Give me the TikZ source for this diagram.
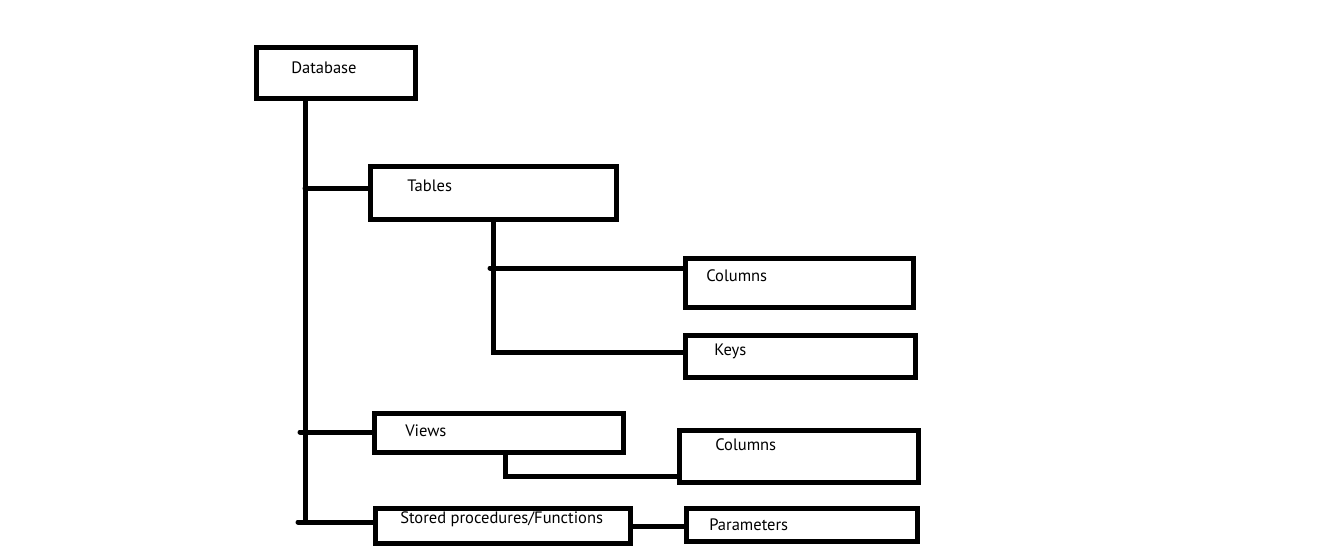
\documentclass[tikz,border=0pt]{standalone}
\usepackage{fontspec}
\setmainfont{PT Sans}
\usetikzlibrary{calc}

\tikzset{
    box/.style={draw, line width=3.75pt, inner sep=0pt},
    lbl/.style={anchor=base west, inner sep=0pt, font=\fontsize{12.4}{14}\selectfont},
    conn/.style={line width=3.75pt, line cap=round}
}

\begin{document}
\begin{tikzpicture}[x=0.75pt, y=-0.75pt]
    \useasboundingbox (0,0) rectangle (1339,547);

    % Boxes
    \node[box, minimum width=119.25pt, minimum height=38.25pt] (db) at (336,73) {};
    \node[box, minimum width=184.5pt, minimum height=39.75pt] (tables) at (493.5,193) {};
    \node[box, minimum width=171pt, minimum height=36.75pt] (cols) at (799,282.5) {};
    \node[box, minimum width=172.5pt, minimum height=31.5pt] (keys) at (800,356) {};
    \node[box, minimum width=186.4pt, minimum height=29.6pt] (views) at (499,433) {};
    \node[box, minimum width=179.6pt, minimum height=39pt] (vcols) at (799.25,456.5) {};
    \node[box, minimum width=190.9pt, minimum height=25.9pt] (procs) at (502.75,526.25) {};
    \node[box, minimum width=173.6pt, minimum height=24.4pt] (params) at (802.25,525.25) {};

    % Labels
    \node[lbl] (db-t) at (291,73) {Database};
    \node[lbl] (tables-t) at (407,191) {Tables};
    \node[lbl] (cols-t) at (706,281) {Columns};
    \node[lbl] (keys-t) at (714,355) {Keys};
    \node[lbl] (views-t) at (405,436) {Views};
    \node[lbl] (vcols-t) at (715,450.5) {Columns};
    \node[lbl] (procs-t) at (400,523) {Stored procedures/Functions};
    \node[lbl] (params-t) at (709,530) {Parameters};

    % Junctions
    \coordinate (trunk) at (305,522);
    \coordinate (jt) at (305,188);
    \coordinate (jv) at (300,432);
    \coordinate (jp) at (298,522);
    \coordinate (tc) at (490,268);
    \coordinate (tk) at (493,352);
    \coordinate (vd) at (505,476.5);

    % Database tree
    \draw[conn] (db.south -| trunk) -- (trunk);
    \draw[conn] (jt) -- (jt -| tables.west);
    \draw[conn] (jv) -- (jv -| views.west);
    \draw[conn] (jp) -- (jp -| procs.west);

    % Tables tree
    \draw[conn] (tables.south -| tk) -- (tk) -- (tk -| keys.west);
    \draw[conn] (tc) -- (tc -| cols.west);

    % Views tree
    \draw[conn] (views.south -| vd) -- (vd) -- (vd -| vcols.west);

    % Procedures
    \draw[conn] (procs.east) -- (procs.east -| params.west);
\end{tikzpicture}
\end{document}
